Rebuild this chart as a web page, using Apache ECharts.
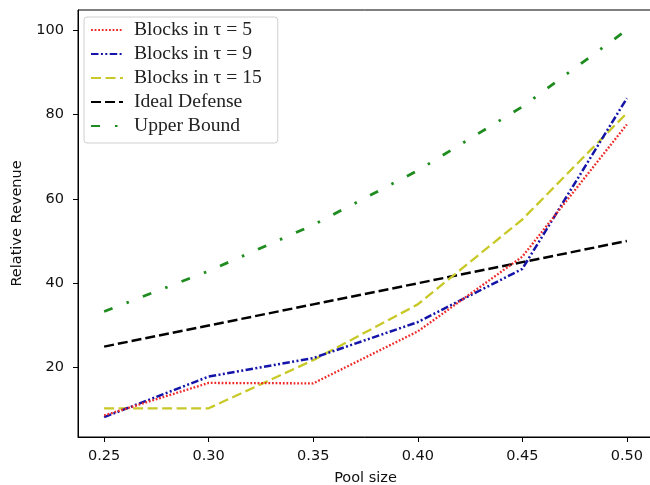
<!DOCTYPE html>
<html><head><meta charset="utf-8">
<script src="https://cdn.jsdelivr.net/npm/echarts@6/dist/echarts.min.js"></script>
<style>html,body{margin:0;padding:0;background:#fff}#c{width:650px;height:485px}</style>
</head><body><div id="c"></div>
<script>
const poolSizes = [0.25, 0.30, 0.35, 0.40, 0.45, 0.50];
const tau5 = [8.7, 16.4, 16.3, 28.6, 46.3, 77.6];
const tau9 = [8.3, 17.9, 22.3, 30.8, 43.4, 83.8];
const tau15 = [10.4, 10.4, 21.8, 35.0, 55.1, 80.3];
const idealDefense = [25, 30, 35, 40, 45, 50];
const upperBound = [33.3, 42.9, 53.8, 66.7, 81.8, 100];
const xTicks = [0.25, 0.30, 0.35, 0.40, 0.45, 0.50];
const yTicks = [20, 40, 60, 80, 100];

const names = ['Blocks in τ = 5', 'Blocks in τ = 9', 'Blocks in τ = 15', 'Ideal Defense', 'Upper Bound'];
const dataSets = [tau5, tau9, tau15, idealDefense, upperBound];
const colors = ['#ee2a2a', '#1414a8', '#c8c828', '#000000', '#1e8c1e'];
const dashes = [[1.8, 1.8], [7.5, 2.4, 2, 2.4, 2, 2.4], [10, 4.5], [10, 4], [9, 15, 2.5, 15]];
const widths = [2.3, 2.5, 2.3, 2.5, 2.8];

const series = names.map((n, i) => ({
  name: n, type: 'line', showSymbol: false, symbol: 'none',
  data: poolSizes.map((x, j) => [x, dataSets[i][j]]),
  lineStyle: { color: colors[i], width: widths[i], type: dashes[i] },
  itemStyle: { color: colors[i] },
  z: 10 - i
}));

const tickFont = { fontFamily: 'DejaVu Sans', fontSize: 14.5, color: '#111' };

const chart = echarts.init(document.getElementById('c'), null, { renderer: 'canvas' });
chart.setOption({
  animation: false,
  backgroundColor: '#fff',
  grid: { left: 78, top: 10, width: 575, height: 427, show: true, borderColor: '#000', borderWidth: 1,
    containLabel: false, outerBoundsMode: 'none' },
  legend: {
    orient: 'vertical', left: 84, top: 17, itemGap: 4, itemWidth: 32, itemHeight: 14,
    padding: [3, 16, 7, 6],
    backgroundColor: 'rgba(255,255,255,0.85)', borderColor: '#d0d0d0', borderWidth: 1, borderRadius: 3,
    textStyle: { fontFamily: 'Liberation Serif', fontSize: 19.6, color: '#222', padding: [0, 0, 0, 6] },
    itemStyle: { color: 'transparent', borderWidth: 0, opacity: 0 },
    data: names
  },
  xAxis: {
    type: 'value', min: 0.2375, max: 0.5125,
    name: 'Pool size', nameLocation: 'middle', nameGap: 34,
    nameTextStyle: tickFont,
    axisLine: { show: true, onZero: false, lineStyle: { color: '#000', width: 1 } },
    axisTick: { show: true, inside: false, length: 5, lineStyle: { color: '#000' }, customValues: xTicks },
    axisLabel: Object.assign({ margin: 12, customValues: xTicks, formatter: v => v.toFixed(2) }, tickFont),
    splitLine: { show: false }
  },
  yAxis: {
    type: 'value', min: 3.6, max: 104.7,
    name: 'Relative Revenue', nameLocation: 'middle', nameGap: 53,
    nameTextStyle: tickFont,
    axisLine: { show: true, onZero: false, lineStyle: { color: '#000', width: 1 } },
    axisTick: { show: true, inside: false, length: 5, lineStyle: { color: '#000' }, customValues: yTicks },
    axisLabel: Object.assign({ margin: 14, customValues: yTicks, formatter: v => String(Math.round(v)) }, tickFont),
    splitLine: { show: false }
  },
  series: series
});
</script>
</body></html>
